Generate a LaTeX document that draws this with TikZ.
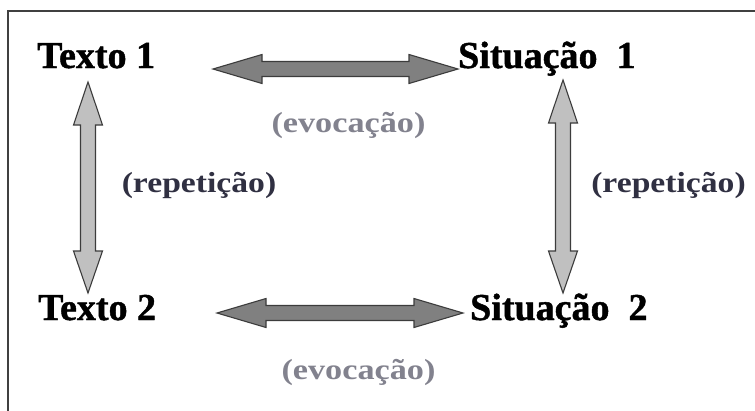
\documentclass[tikz,border=0pt]{standalone}
\usepackage{fontspec}
\setmainfont{Liberation Serif}[BoldFont={Liberation Serif Bold}]
\newfontfamily\termfont{Liberation Serif Bold}[FakeBold=1.2]
\newfontfamily\labelfont{Liberation Serif Bold}
\usetikzlibrary{calc}

\definecolor{evocol}{RGB}{130,130,142}
\definecolor{repcol}{RGB}{48,48,66}
\definecolor{hfill}{RGB}{128,128,128}
\definecolor{vfill}{RGB}{192,192,192}
\definecolor{edgecol}{RGB}{60,60,60}

% horizontal double arrow between two named points (same height)
\newcommand\hdblarrow[3]{%
  \draw[#1] let \p1=(#2), \p2=(#3) in
    (\x1,\y1) -- (\x1+49pt,\y1+14.5pt) -- (\x1+49pt,\y1+7.5pt)
    -- (\x2-49pt,\y1+7.5pt) -- (\x2-49pt,\y1+14.5pt) -- (\x2,\y1)
    -- (\x2-49pt,\y1-14.5pt) -- (\x2-49pt,\y1-7.5pt)
    -- (\x1+49pt,\y1-7.5pt) -- (\x1+49pt,\y1-14.5pt) -- cycle;}

% vertical double arrow from an upper point to a lower point
\newcommand\vdblarrow[3]{%
  \draw[#1] let \p1=(#2), \p2=(#3) in
    (\x1,\y1) -- (\x1+14.5pt,\y1-43pt) -- (\x1+7.5pt,\y1-43pt)
    -- (\x1+7.5pt,\y2+42pt) -- (\x1+14.5pt,\y2+42pt) -- (\x1,\y2)
    -- (\x1-14.5pt,\y2+42pt) -- (\x1-7.5pt,\y2+42pt)
    -- (\x1-7.5pt,\y1-43pt) -- (\x1-14.5pt,\y1-43pt) -- cycle;}

\tikzset{
  term/.style={anchor=base west, inner sep=0pt,
    font=\termfont\fontsize{38}{40}\selectfont},
  evolabel/.style={inner sep=0pt, text=evocol,
    font=\labelfont\fontsize{29}{32}\selectfont},
  replabel/.style={inner sep=0pt, text=repcol,
    font=\labelfont\fontsize{29}{32}\selectfont},
  harrow/.style={fill=hfill, draw=edgecol, line width=1.1pt, line join=miter},
  varrow/.style={fill=vfill, draw=edgecol, line width=1.1pt, line join=miter}
}

\begin{document}
\begin{tikzpicture}[x=1pt, y=-1pt]
  \useasboundingbox (0,0) rectangle (755,410);
  \clip (0,0) rectangle (755,410);
  \fill[white] (0,0) rectangle (755,410);

  % outer frame
  \draw[line width=2pt, draw=black!75] (8,11) rectangle (800,460);

  % the four terms
  \node[term] (t1) at (37,68) {Texto 1};
  \node[term] (s1) at (458,68) {Situação\ \ 1};
  \node[term] (t2) at (38,320) {Texto 2};
  \node[term] (s2) at (470,320) {Situação\ \ 2};

  % arrow end points
  \coordinate (e1a) at (213,69);
  \coordinate (e1b) at (458,69);
  \coordinate (e2a) at (217,313);
  \coordinate (e2b) at (463,313);
  \coordinate (r1a) at (88,82);
  \coordinate (r1b) at (88,293);
  \coordinate (r2a) at (563,80);
  \coordinate (r2b) at (563,293);

  % evocation arrows
  \hdblarrow{harrow}{e1a}{e1b}
  \hdblarrow{harrow}{e2a}{e2b}
  % repetition arrows
  \vdblarrow{varrow}{r1a}{r1b}
  \vdblarrow{varrow}{r2a}{r2b}

  % labels
  \node[evolabel] (l1) at (348.5,125) {\scalebox{1.18}[1]{(evocação)}};
  \node[evolabel] (l2) at (358.5,372) {\scalebox{1.18}[1]{(evocação)}};
  \node[replabel] (l3) at (199,185) {\scalebox{1.16}[1]{(repetição)}};
  \node[replabel] (l4) at (668.5,185) {\scalebox{1.16}[1]{(repetição)}};
\end{tikzpicture}
\end{document}
